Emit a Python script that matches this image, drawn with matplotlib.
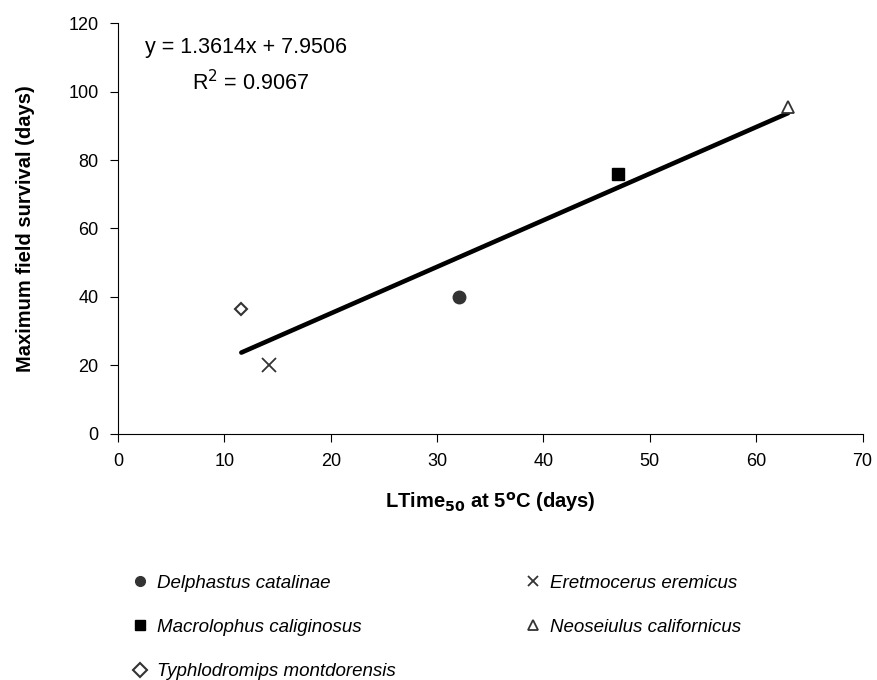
import matplotlib.pyplot as plt

plt.rcParams['font.family'] = ['Liberation Sans', 'DejaVu Sans']

# data
species = ['Delphastus catalinae', 'Macrolophus caliginosus', 'Typhlodromips montdorensis',
           'Eretmocerus eremicus', 'Neoseiulus californicus']
ltime = [32.1, 47.0, 11.6, 14.2, 63.0]
survival = [40.0, 76.0, 36.5, 20.0, 95.5]
markers = ['o', 's', 'D', 'x', '^']

slope = 1.3614
intercept = 7.9506
fit_x = [11.6, 63.0]

fig = plt.figure(figsize=(8.77, 6.8), dpi=100)
ax = fig.add_axes([0.1345, 0.362, 0.849, 0.604])

styles = {
    'o': dict(ms=9, mfc='#333333', mec='#333333'),
    's': dict(ms=9, mfc='black', mec='black'),
    'D': dict(ms=6, mfc='white', mec='#333333', mew=1.5),
    'x': dict(ms=10, mfc='none', mec='#333333', mew=1.3),
    '^': dict(ms=9, mfc='white', mec='#333333', mew=1.3),
}

handles = []
for name, x, y, m in zip(species, ltime, survival, markers):
    h, = ax.plot([x], [y], linestyle='none', marker=m, label=name, **styles[m])
    handles.append(h)

fit_y = [slope * v + intercept for v in fit_x]
ax.plot(fit_x, fit_y, color='black', lw=3.3, solid_capstyle='round', zorder=1)

ax.set_xlim(0, 70)
ax.set_ylim(0, 120)
ax.set_xticks(range(0, 71, 10))
ax.set_yticks(range(0, 121, 20))
ax.spines['top'].set_visible(False)
ax.spines['right'].set_visible(False)
ax.tick_params(direction='out', length=6, labelsize=13, pad=8)

ax.text(2.5, 113, 'y = 1.3614x + 7.9506', fontsize=15.5, va='center')
ax.text(7.0, 102.5, r'R$^2$ = 0.9067', fontsize=15.5, va='center')

ax.set_xlabel(r'LTime$_{\mathbf{50}}$ at 5$^{\mathbf{o}}$C (days)', fontsize=14.5,
              fontweight='bold', labelpad=14)
ax.set_ylabel('Maximum field survival (days)', fontsize=14.5, fontweight='bold', labelpad=24)

leg = fig.legend(handles=handles, loc='upper left', bbox_to_anchor=(0.145, 0.166),
                 ncol=2, frameon=False, prop={'style': 'italic', 'size': 13.5},
                 handlelength=0.6, handletextpad=0.6, columnspacing=7.0,
                 labelspacing=1.45, borderaxespad=0)
for h in leg.legend_handles:
    h.set_markersize(7)

fig.savefig('out.png', dpi=100)
